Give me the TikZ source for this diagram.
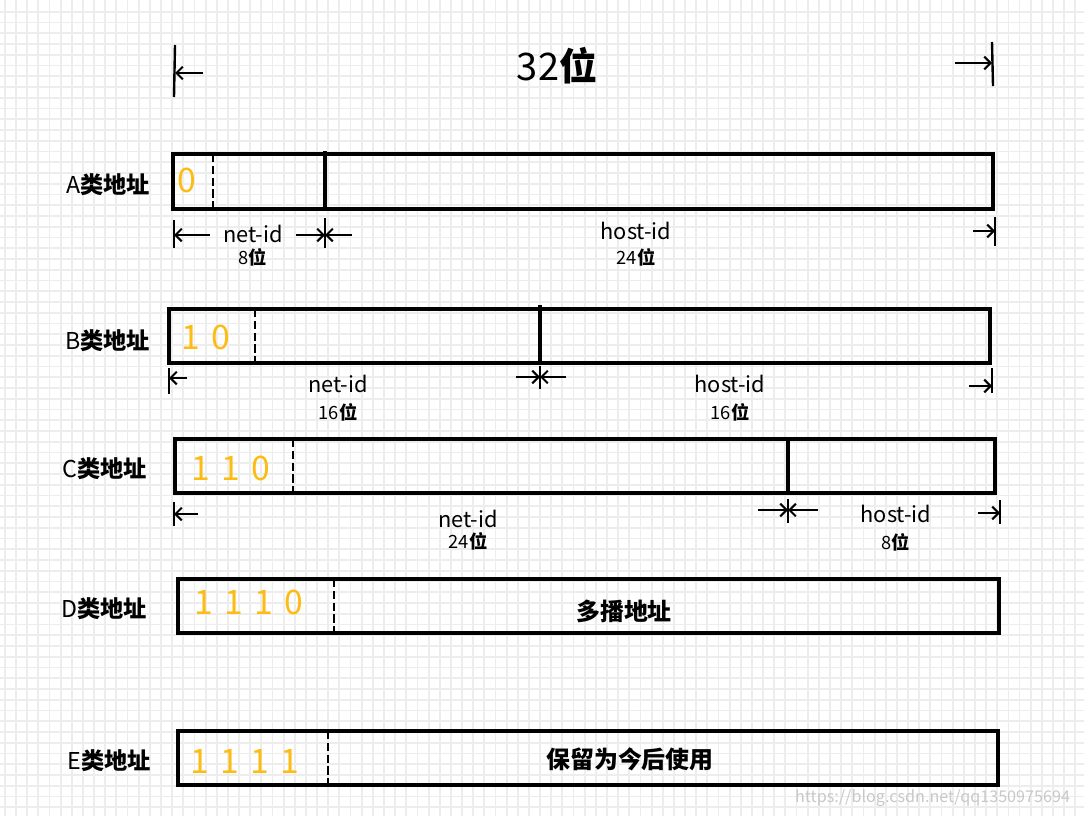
\documentclass[tikz,border=0pt]{standalone}
\usepackage{fontspec}
\setmainfont{Noto Sans CJK SC}
\usetikzlibrary{arrows.meta,positioning}
\definecolor{GridGray}{RGB}{237,237,237}
\definecolor{BitOrange}{RGB}{252,188,20}
\definecolor{MarkGray}{RGB}{200,200,200}

\tikzset{
  gridline/.style={GridGray, line width=1.3pt},
  fieldbox/.style={draw, line width=2.2pt, line join=miter},
  splitline/.style={line width=2.2pt},
  prefixline/.style={line width=2.1pt, dash pattern=on 6pt off 2.4pt},
  dimbar/.style={line width=1.7pt},
  dimarrow/.style={line width=1.5pt, -{Straight Barb[length=4.5pt,width=9pt,line width=1.5pt]}},
  rowlabel/.style={font=\fontsize{16.5}{18}\selectfont, anchor=east},
  bitdigits/.style={font=\fontsize{24}{26}\selectfont, text=BitOrange},
  partname/.style={font=\fontsize{15.5}{17}\selectfont, inner sep=0pt},
  partwidth/.style={font=\fontsize{13}{14}\selectfont, inner sep=0pt},
  fieldtext/.style={font=\bfseries\fontsize{17}{19}\selectfont}
}

\begin{document}
\begin{tikzpicture}[x=0.025cm, y=-0.025cm]
    \useasboundingbox (0,0) rectangle (1084,816);
    % Grid paper
    \fill[white] (0,0) rectangle (1084,816);
    \foreach \gx in {4.9,16.05,...,1084} \draw[gridline] (\gx,0) -- (\gx,816);
    \foreach \gy in {11.7,22.45,...,816} \draw[gridline] (0,\gy) -- (1084,\gy);

    % Overall width
    \node[font=\fontsize{27}{29}\selectfont] (title) at (557,66) {32\textbf{位}};
    \coordinate (tL1) at (175,45);  \coordinate (tL2) at (174,97);
    \coordinate (tR1) at (992,42);  \coordinate (tR2) at (993,86);
    \coordinate (tLs) at (203,73);  \coordinate (tRs) at (955,63);
    \draw[dimbar] (tL1) -- (tL2);
    \draw[dimbar] (tR1) -- (tR2);
    \draw[dimarrow] (tLs) -- (tLs -| tL1);
    \draw[dimarrow] (tRs) -- (tRs -| tR1);

    % A
    \draw[fieldbox] (173,154) rectangle (993,209);
    \draw[prefixline] (213,154) -- (213,209);
    \draw[splitline] (325,151) -- (325,209);
    \node[rowlabel] (labA) at (155,185) {A\textbf{类地址}};
    \node[bitdigits] (bitA) at (187,180) {0};
    \coordinate (aL1) at (174,220); \coordinate (aL2) at (174,248);
    \coordinate (aM1) at (325,218); \coordinate (aM2) at (325,248);
    \coordinate (aR1) at (995,217); \coordinate (aR2) at (995,246);
    \draw[dimbar] (aL1) -- (aL2);
    \draw[dimbar] (aM1) -- (aM2);
    \draw[dimbar] (aR1) -- (aR2);
    \coordinate (aLs) at (210,235); \coordinate (aMa) at (296,235);
    \coordinate (aMb) at (352,235); \coordinate (aRs) at (973,231);
    \draw[dimarrow] (aLs) -- (aLs -| aL1);
    \draw[dimarrow] (aMa) -- (aMa -| aM1);
    \draw[dimarrow] (aMb) -- (aMb -| aM1);
    \draw[dimarrow] (aRs) -- (aRs -| aR1);
    \node[partname] (netA) at (253,234) {net-id};
    \node[partwidth, below=4pt of netA] (wnA) {8\textbf{位}};
    \node[partname] (hostA) at (636,231) {host-id};
    \node[partwidth, below=6pt of hostA] (whA) {24\textbf{位}};

    % B
    \draw[fieldbox] (169,309) rectangle (990,363);
    \draw[prefixline] (255,309) -- (255,363);
    \draw[splitline] (540,305) -- (540,363);
    \node[rowlabel] (labB) at (155,341) {B\textbf{类地址}};
    \node[bitdigits] (bitB) at (206,337) {1\,\,0};
    \coordinate (bL1) at (169,368); \coordinate (bL2) at (169,394);
    \coordinate (bM1) at (540,366); \coordinate (bM2) at (540,389);
    \coordinate (bR1) at (992,368); \coordinate (bR2) at (992,393);
    \draw[dimbar] (bL1) -- (bL2);
    \draw[dimbar] (bM1) -- (bM2);
    \draw[dimbar] (bR1) -- (bR2);
    \coordinate (bLs) at (187,378); \coordinate (bMa) at (516,377);
    \coordinate (bMb) at (566,377); \coordinate (bRs) at (969,386);
    \draw[dimarrow] (bLs) -- (bLs -| bL1);
    \draw[dimarrow] (bMa) -- (bMa -| bM1);
    \draw[dimarrow] (bMb) -- (bMb -| bM1);
    \draw[dimarrow] (bRs) -- (bRs -| bR1);
    \node[partname] (netB) at (338,384) {net-id};
    \node[partwidth, below=7pt of netB] (wnB) {16\textbf{位}};
    \node[partname] (hostB) at (730,384) {host-id};
    \node[partwidth, below=7pt of hostB] (whB) {16\textbf{位}};

    % C
    \draw[fieldbox] (175,439) rectangle (995,493);
    \draw[prefixline] (293,439) -- (293,493);
    \draw[splitline] (788,441) -- (788,493);
    \node[rowlabel] (labC) at (152,469) {C\textbf{类地址}};
    \node[bitdigits] (bitC) at (231,468) {1\,\,1\,\,0};
    \coordinate (cL1) at (174,502); \coordinate (cL2) at (174,526);
    \coordinate (cM1) at (788,499); \coordinate (cM2) at (788,523);
    \coordinate (cR1) at (1000,500); \coordinate (cR2) at (1000,524);
    \draw[dimbar] (cL1) -- (cL2);
    \draw[dimbar] (cM1) -- (cM2);
    \draw[dimbar] (cR1) -- (cR2);
    \coordinate (cLs) at (198,514); \coordinate (cMa) at (758,510);
    \coordinate (cMb) at (818,510); \coordinate (cRs) at (978,513);
    \draw[dimarrow] (cLs) -- (cLs -| cL1);
    \draw[dimarrow] (cMa) -- (cMa -| cM1);
    \draw[dimarrow] (cMb) -- (cMb -| cM1);
    \draw[dimarrow] (cRs) -- (cRs -| cR1);
    \node[partname] (netC) at (468,519) {net-id};
    \node[partwidth, below=3pt of netC] (wnC) {24\textbf{位}};
    \node[partname] (hostC) at (896,514) {host-id};
    \node[partwidth, below=7pt of hostC] (whC) {8\textbf{位}};

    % D
    \draw[fieldbox] (178,579) rectangle (999,633);
    \draw[prefixline] (334,579) -- (334,633);
    \node[rowlabel] (labD) at (152,609) {D\textbf{类地址}};
    \node[bitdigits] (bitD) at (249,602) {1\,\,1\,\,1\,\,0};
    \node[fieldtext] (multi) at (624,611) {多播地址};

    % E
    \draw[fieldbox] (178,731) rectangle (998,785);
    \draw[prefixline] (328,731) -- (328,785);
    \node[rowlabel] (labE) at (156,761) {E\textbf{类地址}};
    \node[bitdigits] (bitE) at (245,761) {1\,\,1\,\,1\,\,1};
    \node[fieldtext] (resv) at (630,759) {保留为今后使用};

    \node[font=\fontsize{11.5}{13}\selectfont, text=MarkGray, anchor=east] (mark) at (1075,798) {https://blog.csdn.net/qq1350975694};
\end{tikzpicture}
\end{document}
